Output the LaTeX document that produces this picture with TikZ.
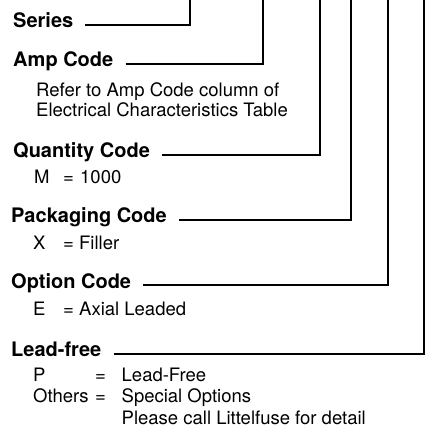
\documentclass[tikz,border=0pt]{standalone}
\usepackage{fontspec}
\setmainfont{TeX Gyre Heros}
\begin{document}
\begin{tikzpicture}[x=1pt,y=-1pt,
  lbl/.style={font=\fontsize{20}{24}\selectfont\bfseries, inner sep=0pt, anchor=base west},
  sub/.style={font=\fontsize{18.5}{22}\selectfont, inner sep=0pt, anchor=base west},
  lead/.style={line width=1.9pt, line join=miter}]
\useasboundingbox (0,0) rectangle (435,427);
% top ends of the leads
\coordinate (t1) at (190,0);
\coordinate (t2) at (263,0);
\coordinate (t3) at (320,0);
\coordinate (t4) at (351,0);
\coordinate (t5) at (388,0);
\coordinate (t6) at (424,0);
% labels
\node[lbl] (ser) at (13,27.5) {Series};
\node[lbl] (amp) at (13,66.5) {Amp Code};
\node[sub] (amp1) at (36,96.5) {Refer to Amp Code column of};
\node[sub] (amp2) at (36,116.5) {Electrical Characteristics Table};
\node[lbl] (qty) at (13,157.5) {Quantity Code};
\node[sub] (qty1) at (34,183.5) {\makebox[29pt][l]{M}\makebox[17pt][l]{=}1000};
\node[lbl] (pkg) at (11,222.5) {Packaging Code};
\node[sub] (pkg1) at (33,249.5) {\makebox[30pt][l]{X}\makebox[16pt][l]{=}Filler};
\node[lbl] (opt) at (11,288) {Option Code};
\node[sub] (opt1) at (33,315) {\makebox[30pt][l]{E}\makebox[16pt][l]{=}Axial Leaded};
\node[lbl] (lf) at (11,356.5) {Lead-free};
\node[sub] (lf1) at (33,381) {\makebox[62pt][l]{P}\makebox[26.5pt][l]{=}Lead-Free};
\node[sub] (lf2) at (33,402.5) {\makebox[62pt][l]{Others}\makebox[26.5pt][l]{=}Special Options};
\node[sub] (lf3) at (121.5,424) {Please call Littelfuse for detail};
% leads
\draw[lead] ([xshift=12pt]ser.mid east) -| (t1);
\draw[lead] ([xshift=12pt]amp.mid east) -| (t2);
\draw[lead] ([xshift=12pt]qty.mid east) -| (t3);
\draw[lead] ([xshift=12pt]pkg.mid east) -| (t4);
\draw[lead] ([xshift=12pt]opt.mid east) -| (t5);
\draw[lead] ([xshift=12pt]lf.mid east) -| (t6);
\end{tikzpicture}
\end{document}
